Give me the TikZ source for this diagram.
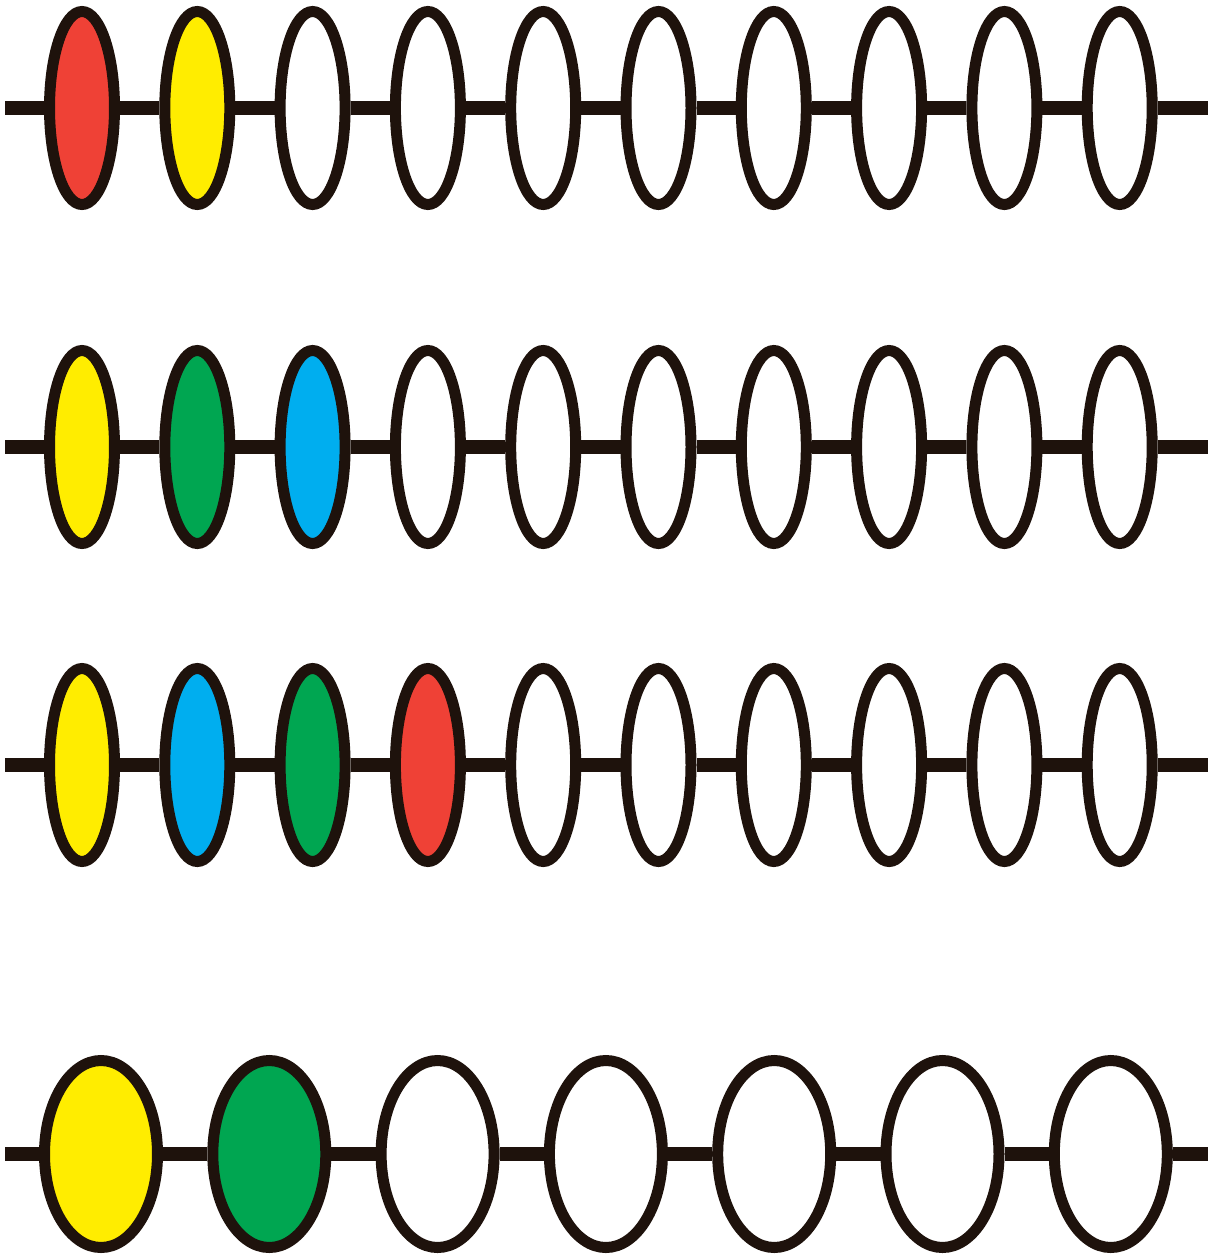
\documentclass[tikz,border=0pt]{standalone}
\usetikzlibrary{shapes.geometric}
\definecolor{ink}{HTML}{1E120C}
\definecolor{bred}{HTML}{EF4136}
\definecolor{byel}{HTML}{FFED00}
\definecolor{bgrn}{HTML}{00A651}
\definecolor{bblu}{HTML}{00AEEF}
\begin{document}
\begin{tikzpicture}[x=0.5pt,y=-0.5pt,
  bead/.style={ellipse,draw=ink,line width=5.5pt,inner sep=0pt,minimum width=32.5pt,minimum height=96.5pt},
  bigbead/.style={bead,minimum width=56.5pt,minimum height=93.5pt},
  rod/.style={draw=ink,line width=6.8pt}]
\useasboundingbox[fill=white] (0,0) rectangle (1208,1258);
% rows with 10 beads
\foreach \r/\y/\cols in {1/108/{bred,byel,white,white,white,white,white,white,white,white},
                          2/447/{byel,bgrn,bblu,white,white,white,white,white,white,white},
                          3/765/{byel,bblu,bgrn,bred,white,white,white,white,white,white}}{
  \foreach \c [count=\i] in \cols {
    \node[bead,fill=\c] (r\r n\i) at ({82+115.3*(\i-1)},\y) {};
  }
  \coordinate (r\r L) at (5,\y);
  \coordinate (r\r R) at (1208,\y);
  \draw[rod] (r\r L) -- (r\r n1);
  \foreach \i in {1,...,9}{
    \pgfmathtruncatemacro\j{\i+1}
    \draw[rod] (r\r n\i) -- (r\r n\j);
  }
  \draw[rod] (r\r n10) -- (r\r R);
}
% row with 7 beads
\foreach \c [count=\i] in {byel,bgrn,white,white,white,white,white}{
  \node[bigbead,fill=\c] (r4n\i) at ({101+168.3*(\i-1)},1154) {};
}
\coordinate (r4L) at (5,1154);
\coordinate (r4R) at (1208,1154);
\draw[rod] (r4L) -- (r4n1);
\foreach \i in {1,...,6}{
  \pgfmathtruncatemacro\j{\i+1}
  \draw[rod] (r4n\i) -- (r4n\j);
}
\draw[rod] (r4n7) -- (r4R);
\end{tikzpicture}
\end{document}
